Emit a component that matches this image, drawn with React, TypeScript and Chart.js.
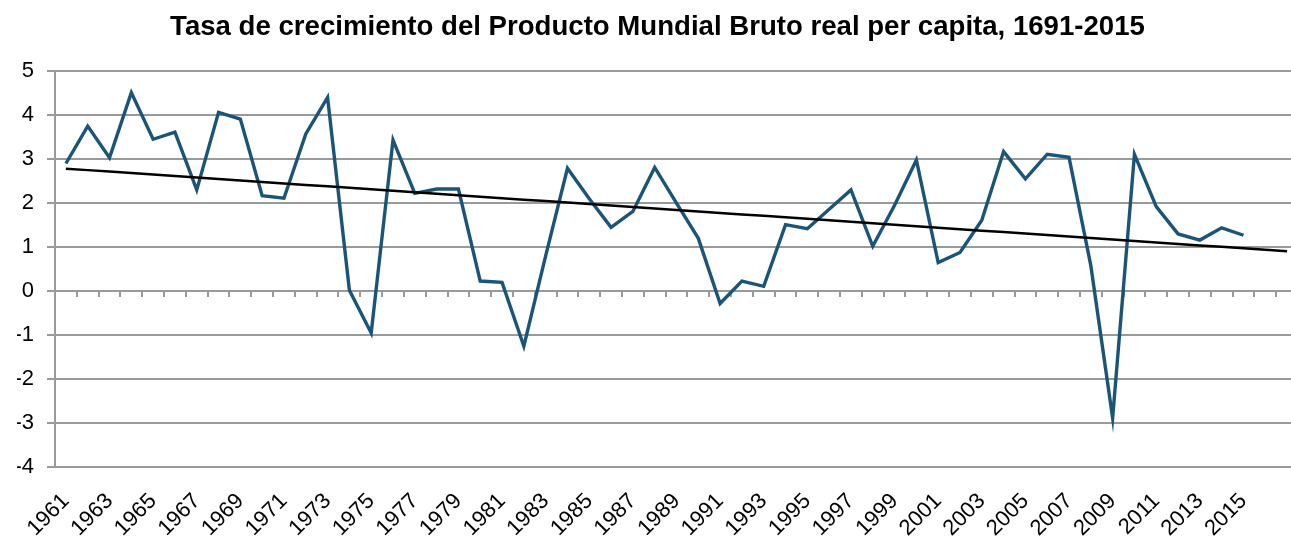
import React, { useEffect, useRef } from 'react';
import { Chart, registerables } from 'chart.js';

Chart.register(...registerables);

const TITLE = 'Tasa de crecimiento del Producto Mundial Bruto real per capita, 1691-2015';

const years = [
  '1961', '1962', '1963', '1964', '1965', '1966', '1967', '1968', '1969', '1970',
  '1971', '1972', '1973', '1974', '1975', '1976', '1977', '1978', '1979', '1980',
  '1981', '1982', '1983', '1984', '1985', '1986', '1987', '1988', '1989', '1990',
  '1991', '1992', '1993', '1994', '1995', '1996', '1997', '1998', '1999', '2000',
  '2001', '2002', '2003', '2004', '2005', '2006', '2007', '2008', '2009', '2010',
  '2011', '2012', '2013', '2014', '2015',
];

// two blank forecast periods that the linear trend line extends into
const forecastSlots = ['', ''];

const growth = [
  2.90, 3.75, 3.03, 4.51, 3.45, 3.61, 2.30, 4.06, 3.91, 2.17,
  2.11, 3.57, 4.40, 0.02, -0.95, 3.43, 2.22, 2.32, 2.32, 0.23,
  0.20, -1.25, 0.80, 2.79, 2.10, 1.45, 1.81, 2.81, 2.00, 1.20,
  -0.28, 0.23, 0.11, 1.51, 1.42, 1.86, 2.30, 1.02, 1.95, 2.98,
  0.65, 0.88, 1.61, 3.17, 2.55, 3.11, 3.04, 0.58, -2.88, 3.11,
  1.92, 1.30, 1.16, 1.44, 1.27,
];

const yMin = -4;
const yMax = 5;
const yStep = 1;

const FONT = "'Liberation Sans', Arial, Helvetica, sans-serif";
const GRID = '#9a9a9a';
const LINE = '#1a5578';

const CANVAS_W = 1338;
const CANVAS_H = 536;

export default function App() {
  const ref = useRef<HTMLCanvasElement>(null);

  useEffect(() => {
    if (!ref.current) return;
    const labels = [...years, ...forecastSlots];

    // least-squares linear trend over the observed values
    const n = growth.length;
    let sx = 0, sy = 0, sxx = 0, sxy = 0;
    growth.forEach((v, i) => {
      sx += i; sy += v; sxx += i * i; sxy += i * v;
    });
    const slope = (n * sxy - sx * sy) / (n * sxx - sx * sx);
    const intercept = (sy - slope * sx) / n;
    const trend = labels.map((_, i) => intercept + slope * i);

    const chart = new Chart(ref.current, {
      type: 'line',
      data: {
        labels,
        datasets: [
          {
            label: 'Tendencia',
            data: trend,
            borderColor: '#000000',
            borderWidth: 2.5,
            pointRadius: 0,
            tension: 0,
            order: 0,
          },
          {
            label: 'Crecimiento',
            data: growth,
            borderColor: LINE,
            borderWidth: 3.4,
            pointRadius: 0,
            tension: 0,
            borderJoinStyle: 'miter',
            order: 1,
          },
        ],
      },
      options: {
        responsive: false,
        animation: false,
        layout: { padding: { left: 17, right: 40, top: 0, bottom: 0 } },
        plugins: {
          legend: { display: false },
          tooltip: { enabled: false },
          title: {
            display: true,
            text: TITLE,
            color: '#000000',
            font: { family: FONT, size: 27.6, weight: 'bold' },
            padding: { top: 11, bottom: 26.9 },
          },
        },
        scales: {
          x: {
            type: 'category',
            position: 'bottom',
            offset: true,
            grid: { display: false, drawTicks: false },
            border: { display: false },
            ticks: {
              autoSkip: false,
              minRotation: 45,
              maxRotation: 45,
              padding: 21,
              color: '#000000',
              font: { family: FONT, size: 22 },
              callback: function (this: any, val: any, idx: number) {
                return idx % 2 === 0 ? this.getLabelForValue(val) : '';
              },
            },
            afterFit: (scale: any) => {
              scale.height = 536 - 467.3;
            },
          },
          x2: {
            type: 'category',
            axis: 'x',
            position: { y: 0 },
            offset: true,
            grid: {
              drawOnChartArea: false,
              drawTicks: true,
              tickLength: 6,
              color: GRID,
              lineWidth: 2,
              offset: true,
            },
            border: { display: false },
            ticks: { display: false, autoSkip: false },
          },
          y: {
            min: yMin,
            max: yMax,
            ticks: {
              stepSize: yStep,
              padding: 13,
              color: '#000000',
              font: { family: FONT, size: 22 },
            },
            grid: { color: GRID, lineWidth: 2, tickLength: 8 },
            border: { display: true, color: GRID, width: 2 },
            afterFit: (scale: any) => {
              scale.width = 38;
            },
          },
        },
      },
    } as any);

    return () => chart.destroy();
  }, []);

  return (
    <div
      style={{
        position: 'absolute',
        left: 0,
        top: 0,
        width: 1291,
        height: 536,
        overflow: 'hidden',
        background: '#ffffff',
      }}
    >
      <canvas
        ref={ref}
        width={CANVAS_W}
        height={CANVAS_H}
        style={{ width: CANVAS_W, height: CANVAS_H, display: 'block' }}
      />
    </div>
  );
}
